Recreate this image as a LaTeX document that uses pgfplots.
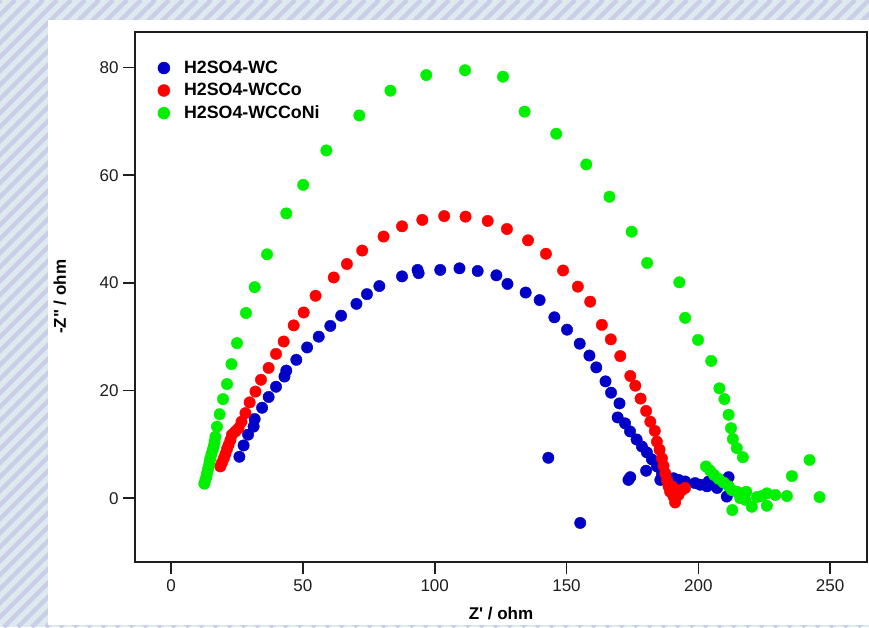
\documentclass[border=0pt]{standalone}
\usepackage{pgfplots}
\pgfplotsset{compat=1.18}
\usepackage{fontspec}
\setmainfont{Liberation Sans}[Ligatures=TeXOff]
\definecolor{bgblue}{RGB}{221,235,238}
\definecolor{stripe}{RGB}{202,206,232}
\definecolor{cWC}{RGB}{0,0,200}
\definecolor{cWCCo}{RGB}{255,0,0}
\definecolor{cWCCoNi}{RGB}{0,240,0}
\definecolor{axgray}{RGB}{30,30,30}

\begin{document}
\begin{tikzpicture}[x=1pt,y=1pt]
% striped frame
\begin{scope}
\clip (0,0) rectangle (869,627);
\fill[bgblue] (0,0) rectangle (869,627);
\foreach \i in {-640,-626,...,880}
  \draw[stripe, line width=4.5pt] (\i,0) -- (\i+627,627);
\end{scope}
\fill[white] (48,2) rectangle (869,607);

\begin{axis}[
  at={(135pt,65.3pt)}, anchor=south west,
  scale only axis, width=732pt, height=529.7pt,
  xmin=-13.7, xmax=264, ymin=-11.8, ymax=86.6,
  xtick={0,50,...,250}, ytick={0,20,...,80},
  tick pos=left, tick align=outside,
  major tick length=12pt,
  axis line style={axgray, line width=1.6pt},
  every tick/.style={axgray, line width=1.6pt},
  font=\fontsize{17}{20}\selectfont,
  /pgf/number format/assume math mode=true,
  tick label style={text=axgray},
  xticklabel style={yshift=-2pt},
  yticklabel style={xshift=-1pt},
  xlabel={\bfseries Z' / ohm},
  ylabel={\bfseries -Z" / ohm},
  xlabel style={at={(axis description cs:0.5,-0.097)}, anchor=center},
  ylabel style={at={(axis description cs:-0.1025,0.5)}, anchor=center, rotate=0},
  legend style={at={(axis description cs:0.028,0.953)}, anchor=north west,
    draw=none, fill=none, font=\fontsize{17.8}{20}\selectfont\bfseries,
    row sep=4.5pt, inner sep=2pt, column sep=0pt},
  legend cell align=left,
  legend image code/.code={%
    \path (0pt,0pt) (24pt,0pt);
    \draw[#1, only marks, mark size=6pt] plot coordinates {(6pt,0pt)};},
  every axis plot/.append style={only marks, mark=*, mark size=5.7pt},
]
% H2SO4-WC
\addplot[cWC, mark options={draw=cWC, fill=cWC}] coordinates {
(25.9,7.7) (27.5,9.8) (29.2,11.8) (31.3,13.3) (31.7,14.7) (34.5,16.8)
(37.0,18.8) (39.8,20.7) (43.0,22.6) (43.7,23.7) (47.5,25.7) (51.6,28.0)
(56.0,30.0) (60.4,32.0) (64.5,33.9) (70.3,36.1) (74.3,37.9) (79.0,39.4)
(87.6,41.2) (93.5,42.4) (93.9,41.8) (102.1,42.4) (109.4,42.7) (116.3,42.2)
(123.4,41.4) (127.6,39.8) (134.5,38.2) (139.8,36.8) (145.4,33.6) (150.2,31.3)
(155.0,28.7) (158.7,26.5) (161.3,24.3) (164.8,21.7) (166.9,19.6) (170.1,17.6)
(169.4,15.0) (172.2,13.9) (174.1,12.4) (176.6,10.9) (178.6,9.6) (180.5,8.5)
(182.4,7.2) (184.3,5.9) (186.2,4.6) (185.6,3.4) (188.1,3.7) (190.6,3.7)
(192.5,3.4) (195.0,3.1) (198.8,2.8) (200.7,2.5) (203.3,2.2) (203.9,3.1)
(207.1,1.9) (211.5,3.9) (210.8,0.3) (173.5,3.4) (174.2,3.9) (180.2,5.1)
(155.2,-4.6) (143.1,7.5)
};
\addlegendentry{H2SO4-WC}
% H2SO4-WCCo
\addplot[cWCCo, mark options={draw=cWCCo, fill=cWCCo}] coordinates {
(18.7,5.9) (19.3,6.6) (20.0,7.4) (20.6,8.2) (21.2,9.1) (21.8,9.9)
(22.5,10.8) (23.1,11.8) (24.4,12.4) (25.6,13.0) (26.7,14.2) (28.2,15.8)
(29.8,17.8) (32.0,19.8) (34.1,22.0) (37.0,24.2) (39.8,26.8) (42.7,29.1)
(46.5,32.1) (50.3,34.5) (54.8,37.6) (61.7,41.0) (66.7,43.5) (72.5,46.0)
(80.6,48.6) (87.6,50.5) (95.3,51.7) (103.6,52.4) (111.7,52.3) (120.1,51.5)
(127.4,50.0) (135.4,47.9) (142.2,45.4) (148.7,42.3) (154.3,39.3) (159.0,36.5)
(163.4,32.2) (166.8,29.5) (170.4,26.4) (174.2,22.7) (176.1,20.9) (178.1,18.5)
(180.2,16.2) (181.8,14.2) (183.5,12.5) (184.3,10.5) (185.3,9.0) (186.2,7.4)
(186.8,6.0) (187.5,4.6) (188.1,3.4) (188.7,2.2) (189.3,1.2) (190.6,0.3)
(191.2,-0.8) (192.5,0.6) (193.8,1.5) (195.0,1.9) (191.9,1.5) (190.0,2.2)
};
\addlegendentry{H2SO4-WCCo}
% H2SO4-WCCoNi
\addplot[cWCCoNi, mark options={draw=cWCCoNi, fill=cWCCoNi}] coordinates {
(12.6,2.7) (13.0,3.4) (13.4,4.0) (13.6,4.6) (14.0,5.4) (14.4,6.1)
(14.6,6.8) (14.9,7.4) (15.3,8.2) (15.8,9.0) (16.2,9.7) (16.5,10.5)
(16.8,11.4) (17.4,13.3) (18.4,15.6) (19.7,18.4) (21.2,21.2) (22.9,24.9)
(25.0,28.8) (28.4,34.4) (31.7,39.2) (36.4,45.3) (43.7,52.9) (50.1,58.2)
(58.9,64.6) (71.4,71.1) (83.2,75.7) (96.8,78.6) (111.5,79.5) (125.9,78.3)
(134.1,71.8) (146.1,67.7) (157.5,62.0) (166.3,56.0) (174.7,49.5) (180.6,43.7)
(192.8,40.1) (195.0,33.5) (199.9,29.4) (204.9,25.5) (208.0,20.4) (209.9,18.4)
(211.5,15.5) (212.4,13.0) (213.1,11.0) (214.6,9.3) (216.9,7.6)
(202.9,5.9) (204.5,5.1) (206.0,4.3) (207.7,3.6) (209.6,2.9) (211.5,2.2)
(212.7,1.5) (214.6,1.2) (216.5,0.9) (215.9,0.0) (217.8,-0.3) (218.2,1.2)
(220.3,-1.6) (222.2,0.2) (224.1,0.4) (226.0,0.9) (226.0,-1.4) (229.2,0.6)
(233.6,0.4) (235.5,4.1) (242.2,7.1) (246.0,0.2) (212.9,-2.2)
};
\addlegendentry{H2SO4-WCCoNi}
\end{axis}
\end{tikzpicture}
\end{document}
